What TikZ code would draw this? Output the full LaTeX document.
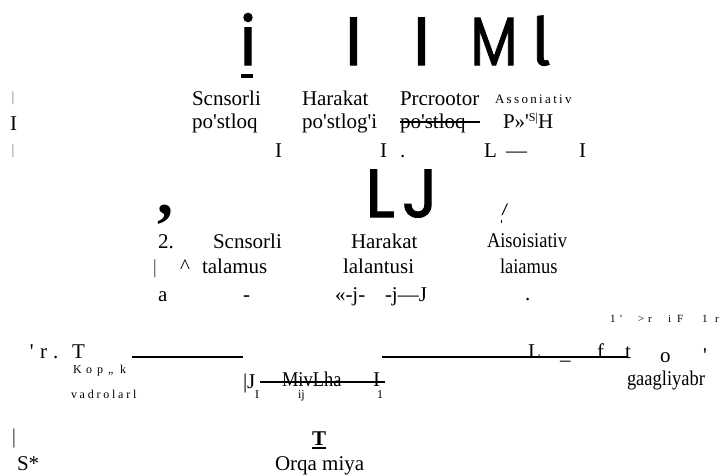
\documentclass[tikz,border=0pt]{standalone}
\usepackage{fontspec}
\usepackage{graphicx}
\setmainfont[Ligatures=TeXOff]{Liberation Serif}
\newfontfamily\geo[FakeBold=1.6]{Poppins}
\newfontfamily\geotail[FakeBold=1.2]{Fira Sans}
\newfontfamily\cond[FakeStretch=0.88,Ligatures=TeXOff]{Liberation Serif}
\newfontfamily\sansit{Liberation Sans}
\newcommand\sq{\textquotesingle}
\begin{document}
\begin{tikzpicture}[x=1pt,y=-1pt,
  txt/.style={inner sep=0pt,outer sep=0pt,anchor=base west,font=\fontsize{21}{21}\selectfont},
  sml/.style={inner sep=0pt,outer sep=0pt,anchor=base west,font=\fontsize{12}{12}\selectfont},
  big/.style={inner sep=0pt,outer sep=0pt,anchor=base,font=\geo\fontsize{68}{68}\selectfont},
  bar/.style={inner sep=0pt,outer sep=0pt,anchor=center,text=black!55,font=\fontsize{14}{14}\selectfont},
  thickrule/.style={line width=2.2pt},
  strike/.style={line width=1.1pt}]
\useasboundingbox (0,0) rectangle (721,475);

% big glyphs, first row
\node[big] (g1) at (248,65) {i};
\node[big] (g2) at (353.5,65) {I};
\node[big] (g3) at (421.5,65) {I};
\node[big] (g4) at (494,65) {\scalebox{0.8}[1]{M}};
\node[big,font=\geotail\fontsize{66}{66}\selectfont] (g5) at (541,65) {l};
\fill (241,74) rectangle (253,78);

% left marks
\node[bar] (b1) at (13,98) {|};
\node[txt] (b2) at (10,130) {I};
\node[bar] (b3) at (13,151.5) {|};

% row 2
\node[txt] (r2a) at (192,105) {Scnsorli};
\node[txt] (r2b) at (302,105) {Harakat};
\node[txt] (r2c) at (400,105) {Prcrootor};
\node[sml,font=\fontsize{13}{13}\selectfont\addfontfeature{LetterSpace=18}] (r2d) at (495,103) {Assoniativ};

\node[txt] (r3a) at (192,128) {po\sq stloq};
\node[txt] (r3b) at (302,128) {po\sq stlog\sq i};
\node[txt] (r3c) at (400,128) {po\sq stloq};
\coordinate (s1a) at (400,122);
\coordinate (s1b) at (480,122);
\draw[strike] (s1a) -- (s1b);
\node[txt] (r3d) at (503,128) {P»\sq\raisebox{7pt}{\fontsize{12}{12}\selectfont S|}H};

\node[txt] (r4a) at (275,157) {I};
\node[txt] (r4b) at (380,157) {I};
\node[txt] (r4c) at (400,157) {.};
\node[txt] (r4d) at (484,157) {L};
\node[txt] (r4e) at (506,157) {—};
\node[txt] (r4f) at (579,157) {I};

% LJ
\node[big] (g6) at (380,217) {L};
\node[big] (g7) at (420,217) {J};
\node[inner sep=0pt,anchor=center,font=\bfseries\fontsize{64}{64}\selectfont] (cm) at (165,215) {,};
\node[inner sep=0pt,anchor=center,font=\sansit\itshape\fontsize{16}{16}\selectfont] (sl) at (504.5,210) {/};
\coordinate (tk1) at (501,219.5);
\coordinate (tk2) at (501,222.5);
\draw[line width=0.8pt] (tk1) -- (tk2);

% row 5
\node[txt] (r5a) at (158,248) {2.};
\node[txt] (r5b) at (213,248) {Scnsorli};
\node[txt] (r5c) at (351,248) {Harakat};
\node[txt,font=\cond\fontsize{21}{21}\selectfont] (r5d) at (487,247) {Aisoisiativ};

% row 6
\node[bar,text=black!70,font=\fontsize{20}{20}\selectfont] (r6a) at (155,269) {|};
\node[txt] (r6b) at (180,273) {\^{}};
\node[txt] (r6c) at (202,273) {talamus};
\node[txt] (r6d) at (343,273) {lalantusi};
\node[txt,font=\cond\fontsize{21}{21}\selectfont] (r6e) at (500,273) {laiamus};

% row 7
\node[txt] (r7a) at (158,301) {a};
\node[txt] (r7b) at (243,301) {-};
\node[txt] (r7c) at (335,301) {«-j-};
\node[txt] (r7d) at (385,301) {-j—J};
\node[txt] (r7e) at (525,300) {.};

% small spaced line top right
\foreach \c/\x [count=\i] in {1/610,{\sq}/620,>/638,r/648,i/668,F/677,1/702,r/715}
  \node[sml,font=\fontsize{11}{11}\selectfont] (q\i) at (\x,322) {\c};

% row with rules
\foreach \c/\x [count=\i] in {{\sq}/30,r/40,./53,T/72}
  \node[txt] (p\i) at (\x,358) {\c};
\coordinate (l1a) at (132,357);
\coordinate (l1b) at (243,357);
\coordinate (l2a) at (382,357);
\coordinate (l2b) at (627,357);
\draw[thickrule] (l1a) -- (l1b);
\draw[thickrule] (l2a) -- (l2b);
\node[txt] (m1) at (528,358) {L};
\node[txt] (m2) at (560,359) {\_};
\node[txt] (m3) at (597,358) {f};
\node[txt] (m4) at (625,358) {t};
\node[txt] (m5) at (660,362) {o};
\node[txt] (m6) at (703,362) {\sq};

% Kop„k
\foreach \c/\x [count=\i] in {K/73,o/86,p/97,„/108,k/120}
  \node[sml] (k\i) at (\x,373) {\c};

\node[txt] (n1) at (243,388) {|J};
\node[txt,font=\cond\fontsize{21}{21}\selectfont] (n2) at (282,386) {MivLha};
\node[txt] (n3) at (373,386) {I};
\coordinate (s2a) at (260,382);
\coordinate (s2b) at (385,382);
\draw[strike] (s2a) -- (s2b);
\node[txt,font=\cond\fontsize{21}{21}\selectfont] (n4) at (627,385) {gaagliyabr};

% row vadrolarl
\node[sml,font=\fontsize{12}{12}\selectfont\addfontfeature{LetterSpace=23}] (v1) at (71,398) {vadrolarl};
\node[sml] (v2) at (255,398) {I};
\node[sml] (v3) at (298,398) {ij};
\node[sml] (v4) at (377,398) {1};

% bottom
\node[bar,text=black!80,font=\fontsize{21}{21}\selectfont] (z1) at (14,438) {|};
\node[txt,font=\bfseries\fontsize{21}{21}\selectfont] (z2) at (312,445) {T};
\coordinate (u1) at (312,448);
\coordinate (u2) at (326,448);
\draw[line width=2pt] (u1) -- (u2);
\node[txt] (z3) at (17,470) {S*};
\node[txt] (z4) at (275,470) {Orqa miya};
\end{tikzpicture}
\end{document}
